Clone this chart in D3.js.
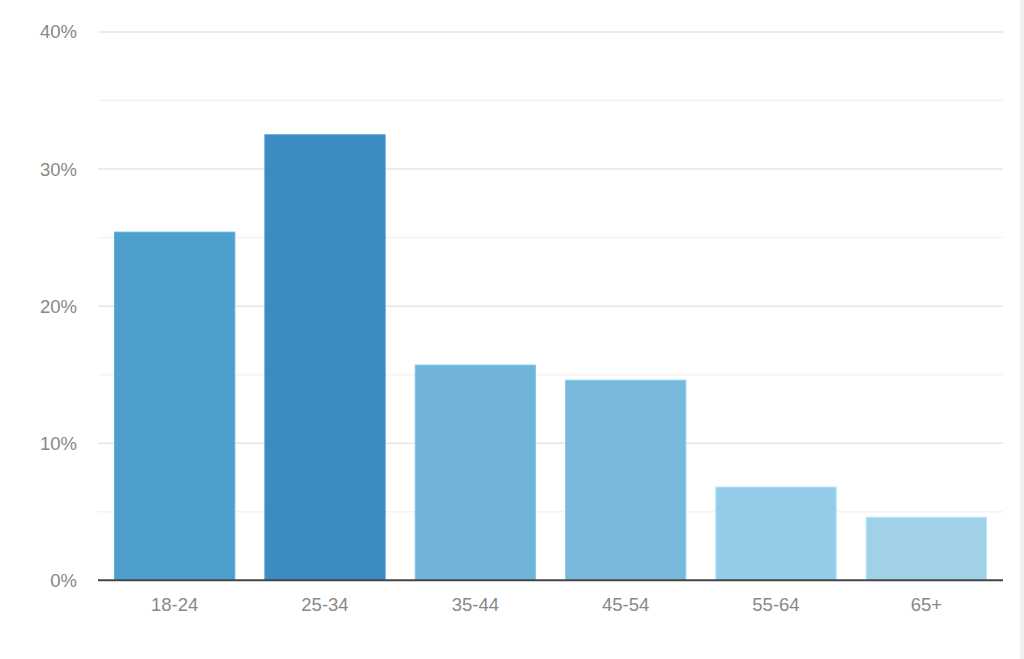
<!DOCTYPE html>
<html><head><meta charset="utf-8">
<script src="https://cdn.jsdelivr.net/npm/d3@7"></script>
<style>body{margin:0;background:#fff;}svg{display:block;font-family:"Liberation Sans",Arial,Helvetica,sans-serif;}</style>
</head><body>
<svg id="c" width="1024" height="659"></svg>
<script>
const categories = ["18-24","25-34","35-44","45-54","55-64","65+"];
const values = [25.4, 32.5, 15.7, 14.6, 6.8, 4.6];
const colors = ["#4e9fcd","#3d8bc3","#6fb4d8","#78b8db","#94cbe8","#a0d1e9"];
const majorTicks = [0,10,20,30,40];
const minorTicks = [5,15,25,35];

const svg = d3.select("#c");
const x = d3.scaleBand().domain(categories).range([98,1003]).paddingInner(0.2).paddingOuter(0.11);
const y = d3.scaleLinear().domain([0,40]).range([580.3,32]);

svg.append("rect").attr("x",1020).attr("y",0).attr("width",4).attr("height",659).attr("fill","#f0f0f0");

svg.append("g").selectAll("line").data(minorTicks).join("line")
  .attr("x1",98).attr("x2",1003).attr("y1",d=>y(d)).attr("y2",d=>y(d))
  .attr("stroke","#f3f3f3").attr("stroke-width",1.5);
svg.append("g").selectAll("line").data(majorTicks.filter(d=>d>0)).join("line")
  .attr("x1",98).attr("x2",1003).attr("y1",d=>y(d)).attr("y2",d=>y(d))
  .attr("stroke","#e6e6e6").attr("stroke-width",1.5);

svg.append("g").selectAll("rect").data(values).join("rect")
  .attr("x",(d,i)=>x(categories[i])).attr("width",x.bandwidth())
  .attr("y",d=>y(d)).attr("height",d=>y(0)-y(d))
  .attr("fill",(d,i)=>colors[i])
  .attr("stroke",(d,i)=>d3.color(colors[i]).brighter(0.3))
  .attr("stroke-width",1);

svg.append("line").attr("x1",98).attr("x2",1003).attr("y1",y(0)).attr("y2",y(0))
  .attr("stroke","#444").attr("stroke-width",2);

svg.append("g").selectAll("text").data(majorTicks).join("text")
  .attr("x",77).attr("y",d=>y(d)).attr("dy","0.35em").attr("text-anchor","end")
  .attr("font-size",18.5).attr("fill","#888").text(d=>d+"%");

svg.append("g").selectAll("text").data(categories).join("text")
  .attr("x",d=>x(d)+x.bandwidth()/2).attr("y",605).attr("dy","0.35em").attr("text-anchor","middle")
  .attr("font-size",18.5).attr("fill","#888").text(d=>d);
</script>
</body></html>
